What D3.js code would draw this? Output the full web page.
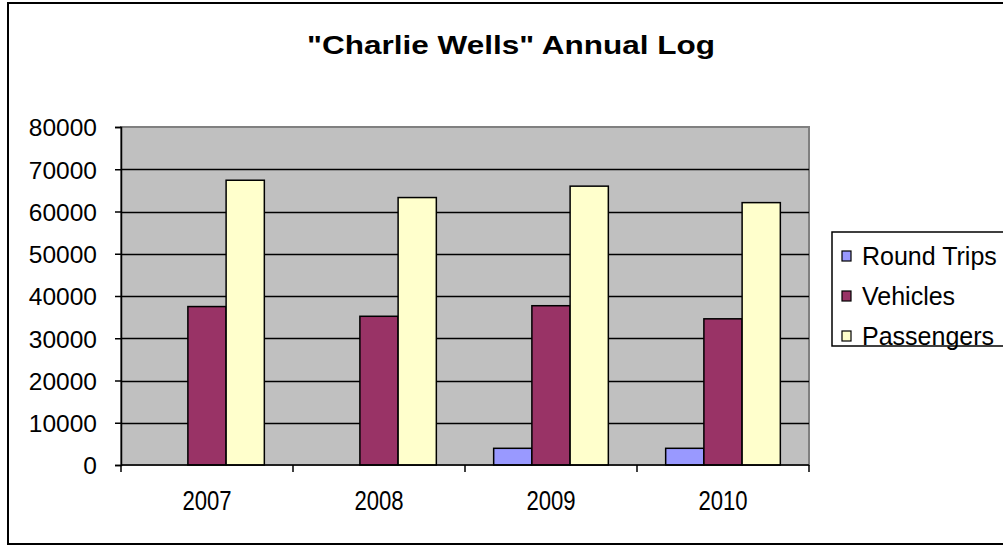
<!DOCTYPE html>
<html>
<head>
<meta charset="utf-8">
<script src="https://cdn.jsdelivr.net/npm/d3@7"></script>
<style>
  body { margin: 0; background: #fff; }
  svg { display: block; }
  text { font-family: "Liberation Sans", Arial, sans-serif; fill: #000; }
</style>
</head>
<body>
<svg id="chart" width="1003" height="546"></svg>
<script>
const categories = ["2007", "2008", "2009", "2010"];
const seriesNames = ["Round Trips", "Vehicles", "Passengers"];
const roundTrips = [0, 0, 3950, 3950];
const vehicles = [37500, 35200, 37700, 34600];
const passengers = [67400, 63300, 66000, 62100];
const yTicks = [0, 10000, 20000, 30000, 40000, 50000, 60000, 70000, 80000];
const colors = ["#9999FF", "#993366", "#FFFFCC"];
const titleText = "\"Charlie Wells\" Annual Log";

const seriesValues = [roundTrips, vehicles, passengers];
const svg = d3.select("#chart");

// outer chart border
svg.append("rect").attr("x", 8).attr("y", 3).attr("width", 1010).attr("height", 541)
  .attr("fill", "#fff").attr("stroke", "#000").attr("stroke-width", 2);

const plot = { left: 121, right: 809, top: 127, bottom: 465 };

const x = d3.scaleBand().domain(categories).range([plot.left, plot.right]).padding(0);
const inner = d3.scaleBand().domain(seriesNames)
  .range([x.bandwidth() * 0.75 / 4.5, x.bandwidth() - x.bandwidth() * 0.75 / 4.5])
  .padding(0);
const y = d3.scaleLinear().domain([0, 80000]).range([plot.bottom, plot.top]);

// plot area background
svg.append("rect").attr("x", plot.left).attr("y", plot.top)
  .attr("width", plot.right - plot.left).attr("height", plot.bottom - plot.top)
  .attr("fill", "#C0C0C0").attr("stroke", "#808080").attr("stroke-width", 2);

// gridlines
svg.append("g").selectAll("line").data(yTicks.filter(d => d > 0 && d < 80000)).join("line")
  .attr("x1", plot.left).attr("x2", plot.right)
  .attr("y1", d => Math.round(y(d)) + 0.5).attr("y2", d => Math.round(y(d)) + 0.5)
  .attr("stroke", "#000").attr("stroke-width", 1.5);

// bars
const g = svg.append("g");
categories.forEach((c, i) => {
  seriesNames.forEach((s, j) => {
    const v = seriesValues[j][i];
    if (v <= 0) return;
    g.append("rect")
      .attr("x", x(c) + inner(s))
      .attr("y", y(v))
      .attr("width", inner.bandwidth())
      .attr("height", y(0) - y(v))
      .attr("fill", colors[j])
      .attr("stroke", "#000").attr("stroke-width", 1.5);
  });
});

// y axis
const yAxis = d3.axisLeft(y).tickValues(yTicks).tickSize(6).tickPadding(18).tickFormat(d3.format("d"));
const ya = svg.append("g").attr("transform", `translate(${plot.left},0)`).call(yAxis);
ya.select(".domain").attr("stroke", "#000").attr("stroke-width", 1.5);
ya.selectAll(".tick line").attr("stroke", "#000").attr("stroke-width", 1.5);
ya.selectAll("text").attr("font-size", 24.5).attr("font-family", "Liberation Sans, Arial, sans-serif")
  .attr("fill", "#000").attr("dy", "0.36em");

// x axis
const xa = svg.append("g").attr("transform", `translate(0,${plot.bottom})`);
xa.append("line").attr("x1", plot.left).attr("x2", plot.right).attr("y1", 0).attr("y2", 0)
  .attr("stroke", "#000").attr("stroke-width", 1.5);
const boundaries = categories.map(c => x(c)).concat([x(categories[categories.length - 1]) + x.bandwidth()]);
xa.selectAll("line.tk").data(boundaries).join("line").attr("class", "tk")
  .attr("x1", d => d).attr("x2", d => d).attr("y1", 0).attr("y2", 7)
  .attr("stroke", "#000").attr("stroke-width", 1.5);
xa.selectAll("text").data(categories).join("text")
  .attr("transform", d => `translate(${x(d) + x.bandwidth() / 2},45) scale(0.82,1)`)
  .attr("text-anchor", "middle").attr("font-size", 27).text(d => d);

// title
svg.append("text").attr("x", 511).attr("y", 54).attr("text-anchor", "middle")
  .attr("font-size", 25).attr("font-weight", "bold")
  .attr("textLength", 408).attr("lengthAdjust", "spacingAndGlyphs")
  .text(titleText);

// legend
const leg = svg.append("g");
leg.append("rect").attr("x", 832).attr("y", 232).attr("width", 190).attr("height", 114)
  .attr("fill", "#fff").attr("stroke", "#000").attr("stroke-width", 1.5);
const legY = d3.scalePoint().domain(seriesNames).range([256, 336]);
seriesNames.forEach((s, j) => {
  leg.append("rect").attr("x", 842).attr("y", legY(s) - 5).attr("width", 9).attr("height", 10)
    .attr("fill", colors[j]).attr("stroke", "#000").attr("stroke-width", 1.2);
  leg.append("text").attr("x", 862).attr("y", legY(s)).attr("dy", "0.36em")
    .attr("font-size", 25).text(s);
});
</script>
</body>
</html>
